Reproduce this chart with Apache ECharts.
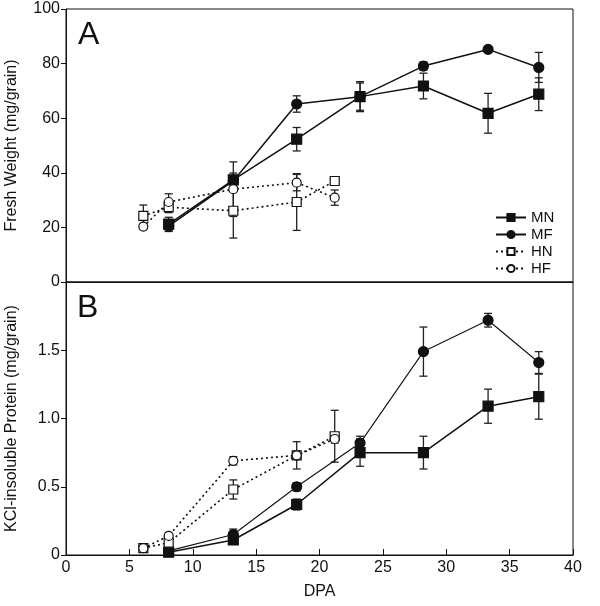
<!DOCTYPE html>
<html><head><meta charset="utf-8">
<script src="https://cdn.jsdelivr.net/npm/echarts@6/dist/echarts.min.js"></script>
<style>html,body{margin:0;padding:0;background:#fff}#c{width:600px;height:606px}</style>
</head><body><div id="c"></div>
<script>
// DPA sampling points
const xM = [8.1, 13.2, 18.2, 23.2, 28.2, 33.3, 37.3];
const xH = [6.1, 8.1, 13.2, 18.2, 21.2];
const xTicks = ['0','5','10','15','20','25','30','35','40'];

// Panel A: Fresh weight (mg/grain)
const fwMN = [21.2, 37.4, 52.3, 67.9, 71.8, 61.8, 68.8];
const fwMNerr = [2.5, 2.5, 4.3, 5.5, 4.7, 7.3, 6.0];
const fwMF = [20.5, 37.0, 65.2, 67.9, 79.1, 85.2, 78.6];
const fwMFerr = [2.0, 2.0, 3.0, 5.0, 1.5, 1.0, 5.5];
const fwHN = [24.2, 27.4, 26.1, 29.3, 37.0];
const fwHNerr = [4.0, 2.0, 10.0, 10.4, 1.0];
const fwHF = [20.3, 29.3, 34.0, 36.4, 30.9];
const fwHFerr = [1.0, 3.0, 10.0, 3.0, 2.8];

// Panel B: KCl-insoluble protein (mg/grain)
const prMN = [0.02, 0.11, 0.37, 0.75, 0.75, 1.09, 1.16];
const prMNerr = [0.01, 0.02, 0.04, 0.10, 0.12, 0.125, 0.165];
const prMF = [0.03, 0.15, 0.50, 0.82, 1.49, 1.72, 1.41];
const prMFerr = [0.01, 0.04, 0.03, 0.05, 0.18, 0.05, 0.08];
const prHN = [0.05, 0.09, 0.48, 0.73, 0.87];
const prHNerr = [0.01, 0.03, 0.07, 0.10, 0.19];
const prHF = [0.05, 0.14, 0.69, 0.73, 0.85];
const prHFerr = [0.01, 0.02, 0.03, 0.03, 0.03];

const FONT = 'Liberation Sans, Arial, Helvetica, sans-serif';
const chart = echarts.init(document.getElementById('c'), null, {renderer:'canvas'});

function pts(xs, ys){ return xs.map((x,i)=>[x, ys[i]]); }
function errs(xs, ys, es){ return xs.map((x,i)=>[x, ys[i]-es[i], ys[i]+es[i]]); }
function renderErr(params, api){
  const x = api.value(0), lo = api.value(1), hi = api.value(2);
  const p1 = api.coord([x, lo]), p2 = api.coord([x, hi]);
  const w = 4;
  const st = {stroke:'#222', lineWidth:1.3};
  return {type:'group', children:[
    {type:'line', shape:{x1:p1[0], y1:p1[1], x2:p2[0], y2:p2[1]}, style:st},
    {type:'line', shape:{x1:p1[0]-w, y1:p1[1], x2:p1[0]+w, y2:p1[1]}, style:st},
    {type:'line', shape:{x1:p2[0]-w, y1:p2[1], x2:p2[0]+w, y2:p2[1]}, style:st}
  ]};
}
function errSeries(idx, xs, ys, es){
  return {type:'custom', xAxisIndex:idx, yAxisIndex:idx, renderItem:renderErr,
    encode:{x:0, y:[1,2]}, data:errs(xs, ys, es), z:1, silent:true};
}
function lineSeries(idx, name, xs, ys, symbol, filled, dotted, lw){
  return {type:'line', name:name, xAxisIndex:idx, yAxisIndex:idx, data:pts(xs, ys),
    symbol:symbol, symbolSize: filled?10:9, showSymbol:true, z:3,
    lineStyle:{color: '#111', width: lw, type: dotted?[2,3]:'solid'},
    itemStyle:{color: filled?'#111':'#fff', borderColor:'#111', borderWidth:1.2},
    emphasis:{disabled:true}, animation:false};
}

const axisLabelStyle = {color:'#111', fontSize:16, fontFamily:FONT};
const nameStyle = {color:'#111', fontSize:16, fontFamily:FONT};
const option = {
  animation:false,
  textStyle:{fontFamily:FONT},
  grid:[
    {left:66, top:9, width:507, height:273, show:true, borderColor:'#111', borderWidth:1, outerBoundsMode:'none', containLabel:false},
    {left:66, top:282, width:507, height:273, show:true, borderColor:'#111', borderWidth:1, outerBoundsMode:'none', containLabel:false}
  ],
  xAxis:[
    {gridIndex:0, type:'value', min:0, max:40, interval:5,
     axisLine:{show:true, lineStyle:{color:'#111'}}, axisTick:{show:false},
     axisLabel:{show:false}, splitLine:{show:false}},
    {gridIndex:1, type:'value', min:0, max:40, interval:5,
     name:'DPA', nameLocation:'middle', nameGap:29, nameTextStyle:nameStyle,
     axisLine:{show:true, lineStyle:{color:'#111'}},
     axisTick:{show:true, inside:true, length:6, lineStyle:{color:'#111'}},
     axisLabel:Object.assign({margin:5, formatter:(v)=>xTicks[Math.round(v/5)]}, axisLabelStyle),
     splitLine:{show:false}}
  ],
  yAxis:[
    {gridIndex:0, type:'value', min:0, max:100, interval:20,
     name:'Fresh Weight (mg/grain)', nameLocation:'middle', nameGap:46, nameTextStyle:nameStyle,
     axisLine:{show:true, lineStyle:{color:'#111'}},
     axisTick:{show:true, length:5, lineStyle:{color:'#111'}},
     axisLabel:Object.assign({margin:6}, axisLabelStyle), splitLine:{show:false}},
    {gridIndex:1, type:'value', min:0, max:2, interval:0.5,
     name:'KCl-insoluble Protein (mg/grain)', nameLocation:'middle', nameGap:46, nameTextStyle:nameStyle,
     axisLine:{show:true, lineStyle:{color:'#111'}},
     axisTick:{show:true, length:5, lineStyle:{color:'#111'}},
     axisLabel:Object.assign({margin:6, formatter:(v)=> v===0?'0':(v>=2?'':v.toFixed(1))}, axisLabelStyle),
     splitLine:{show:false}}
  ],
  legend:{
    data:['MN','MF','HN','HF'], orient:'vertical', left:490, top:205,
    itemWidth:30, itemHeight:9, itemGap:2, selectedMode:false,
    textStyle:{color:'#111', fontSize:15, fontFamily:FONT, lineHeight:14}
  },
  graphic:[
    {type:'text', left:78, top:19, style:{text:'A', fontSize:32, fontFamily:FONT, fill:'#111'}},
    {type:'text', left:77, top:292, style:{text:'B', fontSize:32, fontFamily:FONT, fill:'#111'}}
  ],
  series:[
    errSeries(0, xM, fwMN, fwMNerr), errSeries(0, xM, fwMF, fwMFerr),
    errSeries(0, xH, fwHN, fwHNerr), errSeries(0, xH, fwHF, fwHFerr),
    errSeries(1, xM, prMN, prMNerr), errSeries(1, xM, prMF, prMFerr),
    errSeries(1, xH, prHN, prHNerr), errSeries(1, xH, prHF, prHFerr),
    lineSeries(0, 'MN', xM, fwMN, 'rect', true, false, 1.5),
    lineSeries(0, 'MF', xM, fwMF, 'circle', true, false, 1.5),
    lineSeries(0, 'HN', xH, fwHN, 'rect', false, true, 1.6),
    lineSeries(0, 'HF', xH, fwHF, 'circle', false, true, 1.6),
    lineSeries(1, 'MN', xM, prMN, 'rect', true, false, 1.5),
    lineSeries(1, 'MF', xM, prMF, 'circle', true, false, 1.1),
    lineSeries(1, 'HN', xH, prHN, 'rect', false, true, 1.6),
    lineSeries(1, 'HF', xH, prHF, 'circle', false, true, 1.6)
  ]
};
chart.setOption(option);
</script></body></html>
